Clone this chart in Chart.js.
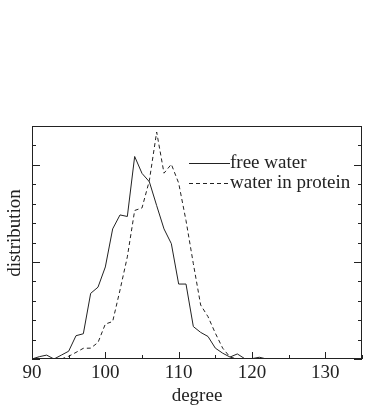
<!DOCTYPE html>
<html>
<head>
<meta charset="utf-8">
<script src="https://cdn.jsdelivr.net/npm/chart.js@4.4.1/dist/chart.umd.min.js"></script>
<style>
  body { margin: 0; background: #fff; }
</style>
</head>
<body>
<canvas id="myChart" width="384" height="406"></canvas>
<script>
// bond angle (degree) and the two distributions
const degrees = [90, 91, 92, 93, 94, 95, 96, 97, 98, 99, 100, 101, 102, 103, 104, 105,
    106, 107, 108, 109, 110, 111, 112, 113, 114, 115, 116, 117, 118, 119, 120, 121, 122];
const freeWater = [0, 0.12, 0.2, 0, 0.2, 0.4, 1.2, 1.3, 3.38, 3.7, 4.74, 6.7, 7.42, 7.34, 10.43, 9.56,
    9.13, 7.9, 6.7, 5.94, 3.86, 3.86, 1.67, 1.37, 1.16, 0.56, 0.3, 0.1, 0.26, 0.02, 0.02, 0.09, 0];
const waterInProtein = [null, null, null, null, 0, 0.14, 0.34, 0.55, 0.56, 0.85, 1.8, 1.93, 3.55, 5.26, 7.65, 7.78,
    9.18, 11.69, 9.57, 10.03, 9.06, 7.13, 4.91, 2.78, 2.18, 1.33, 0.56, 0.1, 0, null, null, null, null];
const xTicks = [90, 100, 110, 120, 130];
const labels = ["free water", "water in protein"];

const serif = "'Liberation Serif', 'Times New Roman', serif";
const ink = "#222";

const toPoints = (ys) => degrees.map((d, i) => ({ x: d, y: ys[i] }));

// frame, inward ticks, y title and legend
const frameTicks = {
    id: "frameTicks",
    afterDraw(chart) {
        const ctx = chart.ctx;
        const a = chart.chartArea;
        const x = chart.scales.x;
        const y = chart.scales.y;
        ctx.save();
        ctx.strokeStyle = ink;
        ctx.lineWidth = 1;
        ctx.setLineDash([]);
        ctx.strokeRect(a.left + 0.5, a.top + 0.5, a.right - a.left - 1, a.bottom - a.top - 1);

        ctx.beginPath();
        for (let v = 90; v <= 135; v += 5) {
            const px = Math.round(x.getPixelForValue(v)) + 0.5;
            const len = v % 10 === 0 ? 7 : 4;
            ctx.moveTo(px, a.bottom);
            ctx.lineTo(px, a.bottom - len);
        }
        for (let v = 0; v <= 12; v++) {
            const py = Math.round(y.getPixelForValue(v)) + 0.5;
            const len = v % 5 === 0 ? 8 : 4;
            ctx.moveTo(a.left, py);
            ctx.lineTo(a.left + len, py);
            ctx.moveTo(a.right, py);
            ctx.lineTo(a.right - len, py);
        }
        ctx.stroke();

        // y axis title
        ctx.fillStyle = ink;
        ctx.font = "19px " + serif;
        ctx.textAlign = "center";
        ctx.textBaseline = "middle";
        ctx.save();
        ctx.translate(15, 233);
        ctx.rotate(-Math.PI / 2);
        ctx.fillText("distribution", 0, 0);
        ctx.restore();

        // legend
        ctx.textAlign = "left";
        chart.data.datasets.forEach((ds, i) => {
            const ly = 163.5 + i * 20;
            ctx.setLineDash(ds.borderDash || []);
            ctx.beginPath();
            ctx.moveTo(189, ly);
            ctx.lineTo(230, ly);
            ctx.stroke();
            ctx.fillText(ds.label, 230, ly);
        });
        ctx.restore();
    }
};

new Chart("myChart", {
    type: "line",
    data: {
        datasets: [{
            label: labels[0],
            data: toPoints(freeWater),
            borderColor: ink,
            borderWidth: 1,
            pointRadius: 0,
            tension: 0,
            spanGaps: false
        }, {
            label: labels[1],
            data: toPoints(waterInProtein),
            borderColor: ink,
            borderWidth: 1,
            borderDash: [4, 3],
            pointRadius: 0,
            tension: 0,
            spanGaps: false
        }]
    },
    options: {
        responsive: false,
        animation: false,
        events: [],
        layout: { padding: { left: 0, right: 22, top: 126, bottom: 0 } },
        plugins: { legend: { display: false }, tooltip: { enabled: false } },
        scales: {
            x: {
                type: "linear",
                min: 90,
                max: 135,
                grid: { display: false },
                border: { display: false },
                afterBuildTicks: (s) => { s.ticks = xTicks.map(v => ({ value: v })); },
                afterFit: (s) => { s.height = 47; },
                ticks: {
                    color: ink,
                    padding: -5,
                    maxRotation: 0,
                    font: { family: serif, size: 19 }
                },
                title: {
                    display: true,
                    text: "degree",
                    color: ink,
                    padding: { top: 0, bottom: -1 },
                    font: { family: serif, size: 19 }
                }
            },
            y: {
                min: 0,
                max: 12,
                grid: { display: false },
                border: { display: false },
                ticks: { display: false },
                afterFit: (s) => { s.width = 32; }
            }
        }
    },
    plugins: [frameTicks]
});
</script>
</body>
</html>
